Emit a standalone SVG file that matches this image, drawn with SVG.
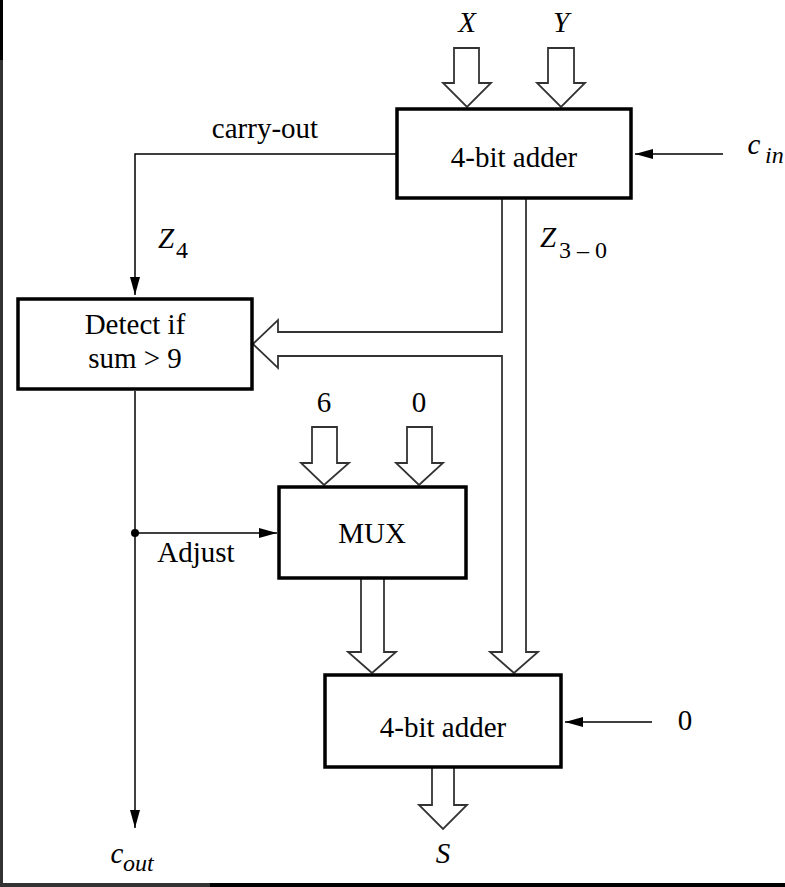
<svg xmlns="http://www.w3.org/2000/svg" width="785" height="887" viewBox="0 0 785 887">
<style>
.box{fill:#fff;stroke:#000;stroke-width:3.5}
.bus{fill:#fff;stroke:#333;stroke-width:1.8;stroke-linejoin:miter}
.wire{fill:none;stroke:#000;stroke-width:1.5}
text{font-family:'Liberation Serif',Tinos,'Times New Roman',serif;fill:#000}
.t{font-size:29px;text-anchor:middle}
.i{font-style:italic}
.sub{font-size:24px;font-style:italic}
.subn{font-size:24px}
</style>
<defs>
<marker id="ah" markerUnits="userSpaceOnUse" markerWidth="18" markerHeight="10" refX="18" refY="5" orient="auto">
<path d="M0,0 L18,5 L0,10 z" fill="#000"/>
</marker>
</defs>
<rect x="0" y="0" width="785" height="887" fill="#fff"/>
<rect x="0" y="0" width="3" height="887" fill="#333"/>
<rect x="0" y="0" width="3" height="60" fill="#000"/>
<rect x="0" y="883" width="785" height="4" fill="#000"/>
<rect x="0" y="883" width="210" height="4" fill="#333"/>

<g id="connectors">
<path class="bus" d="M502,197 V332 H278 V320 L253,344 L278,368 V356 H502 V652 H490 L514,673 L538,652 H526 V197 Z"/>
<polygon class="bus" points="454,48 479,48 479,83 491,83 467,107 443,83 454,83"/>
<polygon class="bus" points="548,48 574,48 574,83 585,83 561,107 537,83 548,83"/>
<polygon class="bus" points="312,427 337,427 337,463 349,463 324,485 301,463 312,463"/>
<polygon class="bus" points="407,427 432,427 432,463 443,463 419,485 396,463 407,463"/>
<polygon class="bus" points="361,577 384,577 384,652 396,652 372,673 348,652 361,652"/>
<polygon class="bus" points="432,766 454,766 454,805 467,805 443,829 419,805 432,805"/>
<path class="wire" d="M397,154 H135 V295" marker-end="url(#ah)"/>
<path class="wire" d="M723,154 H635" marker-end="url(#ah)"/>
<path class="wire" d="M135,391 V828" marker-end="url(#ah)"/>
<path class="wire" d="M135,533 H277" marker-end="url(#ah)"/>
<path class="wire" d="M652,722 H565" marker-end="url(#ah)"/>
<circle cx="135" cy="533" r="4" fill="#000"/>
</g>

<g id="adder1">
<rect class="box" x="397" y="109" width="234" height="89"/>
<text class="t" x="514" y="167">4-bit adder</text>
</g>
<g id="detect">
<rect class="box" x="18" y="299" width="234" height="90"/>
<text class="t" x="135" y="334">Detect if</text>
<text class="t" x="135" y="368">sum &gt; 9</text>
</g>
<g id="mux">
<rect class="box" x="279" y="487" width="187" height="91"/>
<text class="t" x="372" y="543">MUX</text>
</g>
<g id="adder2">
<rect class="box" x="325" y="675" width="236" height="92"/>
<text class="t" x="443" y="737">4-bit adder</text>
</g>

<g id="labels">
<text class="t i" x="467" y="32">X</text>
<text class="t i" x="561" y="32">Y</text>
<text class="t" x="265" y="138">carry-out</text>
<text class="t i" x="754" y="154">c</text>
<text class="sub" x="765" y="163">in</text>
<text class="t i" x="166" y="248">Z</text>
<text class="subn" x="176" y="258">4</text>
<text class="t i" x="548" y="247">Z</text>
<text class="subn" x="559" y="258">3 – 0</text>
<text class="t" x="324" y="412">6</text>
<text class="t" x="419" y="412">0</text>
<text class="t" x="196" y="562">Adjust</text>
<text class="t" x="685" y="730">0</text>
<text class="t i" x="117" y="863">c</text>
<text class="sub" x="123" y="871">out</text>
<text class="t i" x="443" y="863">S</text>
</g>
</svg>
